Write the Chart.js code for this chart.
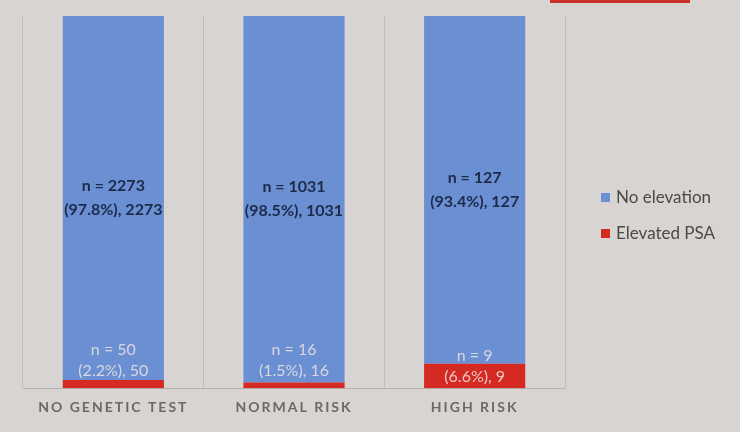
<!DOCTYPE html>
<html>
<head>
<meta charset="utf-8">
<script src="https://cdn.jsdelivr.net/npm/chart.js@4/dist/chart.umd.min.js"></script>
<style>
  html, body { margin: 0; padding: 0; background: #d8d4d1; }
  #wrap { position: relative; width: 740px; height: 432px; overflow: hidden; }
  #topbar { position: absolute; left: 550px; top: 0; width: 140px; height: 3px; background: #c8312c; }
  canvas { position: absolute; left: 0; top: 0; }
</style>
</head>
<body>
<div id="wrap">
  <canvas id="c" width="740" height="432"></canvas>
  <div id="topbar"></div>
</div>
<script>
const categories = ["NO GENETIC TEST", "NORMAL RISK", "HIGH RISK"];
const seriesNames = ["No elevation", "Elevated PSA"];
const noElevationCounts = [2273, 1031, 127];
const noElevationPct = [97.8, 98.5, 93.4];
const elevatedCounts = [50, 16, 9];
const elevatedPct = [2.2, 1.5, 6.6];

const BLUE = "#6a8fd2";
const RED = "#d42a22";

const labelPlugin = {
  id: "segLabels",
  afterDatasetsDraw(chart) {
    const ctx = chart.ctx;
    ctx.save();
    ctx.letterSpacing = "0px";
    ctx.textAlign = "center";
    ctx.textBaseline = "middle";
    // blue segment labels (dataset index 1: stacked on top)
    const mBlue = chart.getDatasetMeta(1);
    mBlue.data.forEach((bar, i) => {
      const cy = (bar.y + bar.base) / 2;
      ctx.fillStyle = "#1e2a4a";
      ctx.font = "bold 16px Lato, 'Open Sans', sans-serif";
      ctx.fillText("n = " + noElevationCounts[i], bar.x, cy - 12);
      ctx.fillText("(" + noElevationPct[i].toFixed(1) + "%), " + noElevationCounts[i], bar.x, cy + 12);
    });
    // red segment labels (dataset index 0: bottom)
    const mRed = chart.getDatasetMeta(0);
    mRed.data.forEach((bar, i) => {
      const base = bar.base;
      const h = base - bar.y;
      ctx.fillStyle = "rgba(236,226,226,0.85)";
      ctx.font = "16px Lato, 'Open Sans', sans-serif";
      const y2 = h > 18 ? (bar.y + base) / 2 + 1 : base - 17;
      ctx.fillText("n = " + elevatedCounts[i], bar.x, y2 - 21);
      ctx.fillText("(" + elevatedPct[i].toFixed(1) + "%), " + elevatedCounts[i], bar.x, y2);
    });
    // legend
    const items = [
      { text: seriesNames[0], color: BLUE, y: 198 },
      { text: seriesNames[1], color: RED, y: 234 }
    ];
    ctx.textAlign = "left";
    ctx.font = "17px Lato, 'Open Sans', sans-serif";
    items.forEach(it => {
      ctx.fillStyle = it.color;
      ctx.fillRect(601, it.y - 5, 9, 9);
      ctx.fillStyle = "#4a4a4a";
      ctx.fillText(it.text, 616, it.y);
    });
    ctx.restore();
    // letter spacing for x-axis tick labels drawn afterwards (ticks.z > 0)
    ctx.letterSpacing = "2px";
  },
  afterDraw(chart) {
    chart.ctx.letterSpacing = "0px";
  }
};

new Chart(document.getElementById("c"), {
  type: "bar",
  data: {
    labels: categories,
    datasets: [
      { label: seriesNames[1], data: elevatedPct, backgroundColor: RED, borderWidth: 0 },
      { label: seriesNames[0], data: noElevationPct, backgroundColor: BLUE, borderWidth: 0 }
    ]
  },
  options: {
    responsive: false,
    animation: false,
    devicePixelRatio: 1,
    layout: { padding: { left: 23, right: 175, top: 16, bottom: 5 } },
    plugins: { legend: { display: false }, tooltip: { enabled: false } },
    datasets: { bar: { barPercentage: 0.56, categoryPercentage: 1 } },
    scales: {
      x: {
        stacked: true,
        grid: { display: true, offset: true, color: "rgba(150,150,150,0.35)", lineWidth: 1, drawTicks: false },
        border: { display: true, color: "rgba(150,150,150,0.55)" },
        ticks: {
          z: 1,
          color: "#6a6a6a",
          padding: 11,
          font: { family: "Lato, 'Open Sans', sans-serif", size: 14, weight: "bold" }
        }
      },
      y: {
        stacked: true,
        display: false,
        min: 0,
        max: 100
      }
    }
  },
  plugins: [labelPlugin]
});
</script>
</body>
</html>
